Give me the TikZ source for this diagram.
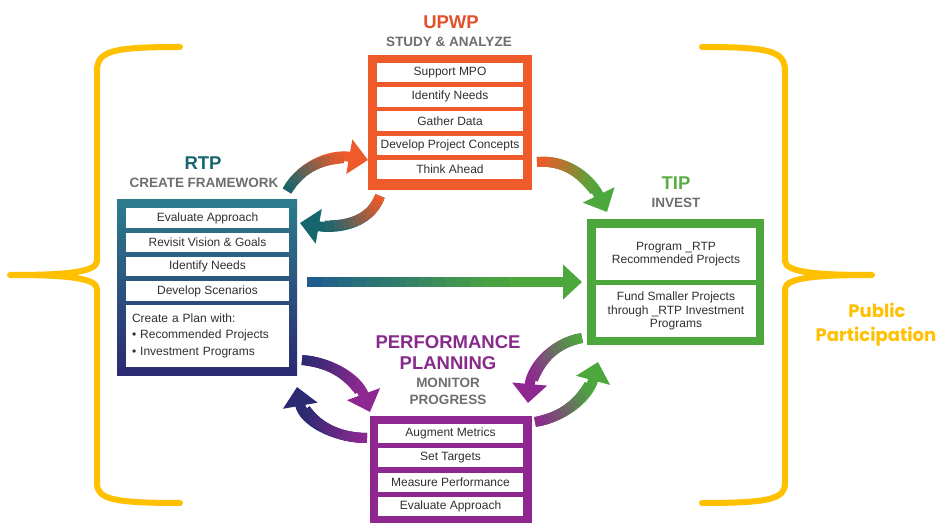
\documentclass[tikz,border=0pt]{standalone}
\usepackage{fontspec}
\setmainfont{Liberation Sans}
\newfontfamily\ppfont{Poppins}
\usetikzlibrary{arrows.meta}

\definecolor{upwporange}{HTML}{EE5A2A}
\definecolor{upwptitle}{HTML}{E4502B}
\definecolor{rtpteal}{HTML}{2C7C8C}
\definecolor{rtpnavy}{HTML}{2B2A72}
\definecolor{rtptitle}{HTML}{17666E}
\definecolor{tipgreen}{HTML}{4CA83C}
\definecolor{tiptitle}{HTML}{5AAE45}
\definecolor{pmpurple}{HTML}{8E2890}
\definecolor{pmtitle}{HTML}{872A8B}
\definecolor{subgray}{HTML}{6E6E6E}
\definecolor{ppgold}{HTML}{FFC000}
\definecolor{rowtext}{HTML}{303030}
\definecolor{flowblue}{HTML}{1F5E8C}

\tikzset{
  frame/.style={inner sep=0pt},
  row/.style={fill=white, inner sep=0pt, minimum height=19.5pt, text=rowtext,
    font=\fontsize{12}{13.5}\selectfont},
  title/.style={font=\fontsize{18.5}{20}\selectfont\bfseries},
  subtitle/.style={text=subgray, font=\fontsize{13.5}{15}\selectfont\bfseries},
  brace/.style={draw=ppgold, line width=6pt, line cap=round, line join=round},
  flow/.style={line width=10pt, -{Triangle[width=34pt,length=19pt]}}
}

% fat curved arrow, shaded from #5 to #6 along its length
\newcommand{\flowarrow}[6]{%
  \draw[flow, #6] (#1) to[out=#3, in=#4] (#2);
  \foreach \i [evaluate=\i as \p using \i*0.05] in {0,...,15} {
    \path (#1) to[out=#3, in=#4] coordinate[pos=\p] (g\i) (#2);
  }
  \foreach \i in {0,...,13} {
    \pgfmathtruncatemacro\j{\i+1}
    \pgfmathtruncatemacro\k{\i+2}
    \pgfmathtruncatemacro\m{100*\i/14}
    \draw[line width=10pt, line join=round, #6!\m!#5] (g\i) -- (g\j) -- (g\k);
  }
}

\begin{document}
\begin{tikzpicture}[x=1pt, y=1pt]
\useasboundingbox (0,0) rectangle (938,523);
\fill[white] (0,0) rectangle (938,523);

% public participation braces
\draw[brace] (180,476) .. controls (112,476) and (97,472) .. (97,452)
  -- (97,262) .. controls (97,250) and (60,248) .. (10,248)
  .. controls (60,248) and (97,246) .. (97,234)
  -- (97,40) .. controls (97,24) and (112,20) .. (180,20);
\draw[brace] (702,476) .. controls (770,476) and (785,472) .. (785,452)
  -- (785,262) .. controls (785,250) and (822,248) .. (872,248)
  .. controls (822,248) and (785,246) .. (785,234)
  -- (785,40) .. controls (785,24) and (770,20) .. (702,20);
\node[text=ppgold, font=\ppfont\fontsize{18}{20}\selectfont\bfseries] (pp1) at (877,213) {Public};
\node[text=ppgold, font=\ppfont\fontsize{18}{20}\selectfont\bfseries] (pp2) at (876,186) {Participation};

% UPWP
\node[title, text=upwptitle] (upwp-t) at (451,501) {UPWP};
\node[subtitle] (upwp-s) at (449,481) {STUDY \& ANALYZE};
\node[frame, fill=upwporange, minimum width=164pt, minimum height=135pt] (upwp) at (450,400.5) {};
\foreach \txt [count=\i] in {Support MPO, Identify Needs, Gather Data, Develop Project Concepts, Think Ahead}
  \node[row, minimum width=146pt] (upwp-\i) at (450,474.8-24.3*\i) {\txt};

% RTP
\node[title, text=rtptitle] (rtp-t) at (203,360) {RTP};
\node[subtitle] (rtp-s) at (204,340) {CREATE FRAMEWORK};
\node[frame, top color=rtpteal, bottom color=rtpnavy, minimum width=180pt, minimum height=175pt] (rtp) at (207,235.5) {};
\foreach \txt [count=\i] in {Evaluate Approach, Revisit Vision \& Goals, Identify Needs, Develop Scenarios}
  \node[row, minimum width=163pt] (rtp-\i) at (207.5,329.3-24.3*\i) {\txt};
\node[row, minimum width=163pt, minimum height=62pt, text width=151pt, align=left,
  font=\fontsize{12}{16.5}\selectfont] (rtp-5) at (207.5,187)
  {Create a Plan with:\\[-0.5pt] \textbullet\ Recommended Projects\\ \textbullet\ Investment Programs};

% TIP
\node[title, text=tiptitle] (tip-t) at (676,340) {TIP};
\node[subtitle] (tip-s) at (676,320) {INVEST};
\node[frame, fill=tipgreen, minimum width=177pt, minimum height=126pt] (tip) at (675.5,241) {};
\node[row, minimum width=160pt, minimum height=52pt, align=center] (tip-1) at (676,269)
  {Program \_RTP\\ Recommended Projects};
\node[row, minimum width=160pt, minimum height=52pt, align=center] (tip-2) at (676,212)
  {Fund Smaller Projects\\ through \_RTP Investment\\ Programs};

% performance planning
\node[title, text=pmtitle] (pm-t1) at (448,181) {PERFORMANCE};
\node[title, text=pmtitle] (pm-t2) at (448,160) {PLANNING};
\node[subtitle] (pm-s1) at (448,140) {MONITOR};
\node[subtitle] (pm-s2) at (448,123) {PROGRESS};
\node[frame, fill=pmpurple, minimum width=162pt, minimum height=107pt] (pm) at (451,53.5) {};
\foreach \txt [count=\i] in {Augment Metrics, Set Targets, Measure Performance, Evaluate Approach}
  \node[row, minimum width=145pt, minimum height=19pt] (pm-\i) at (450.5,113.8-24.3*\i) {\txt};

% arrow ends
\coordinate (rtp-up) at (287,332);
\coordinate (upwp-in) at (368,363);
\coordinate (upwp-down) at (380,327);
\coordinate (rtp-in) at (300,300);
\coordinate (upwp-right) at (537,361);
\coordinate (tip-in) at (607,311);
\coordinate (rtp-right) at (307,241);
\coordinate (tip-left) at (582,241);
\coordinate (tip-down) at (582,185);
\coordinate (pm-in) at (528,120);
\coordinate (pm-right) at (535,101);
\coordinate (tip-up) at (598,161);
\coordinate (rtp-down) at (302,163);
\coordinate (pm-top) at (370,111);
\coordinate (pm-left) at (367,85);
\coordinate (rtp-back) at (297,136);

\flowarrow{rtp-up}{upwp-in}{60}{170}{rtptitle}{upwporange}
\flowarrow{upwp-down}{rtp-in}{-110}{-10}{upwporange}{rtptitle}
\flowarrow{upwp-right}{tip-in}{5}{116}{upwporange}{tipgreen}
\flowarrow{rtp-right}{tip-left}{0}{180}{flowblue}{tipgreen}
\flowarrow{tip-down}{pm-in}{190}{85}{tipgreen}{pmpurple}
\flowarrow{pm-right}{tip-up}{10}{-105}{pmpurple}{tipgreen}
\flowarrow{rtp-down}{pm-top}{-5}{110}{rtpnavy}{pmpurple}
\flowarrow{pm-left}{rtp-back}{180}{-80}{pmpurple}{rtpnavy}
\end{tikzpicture}
\end{document}
